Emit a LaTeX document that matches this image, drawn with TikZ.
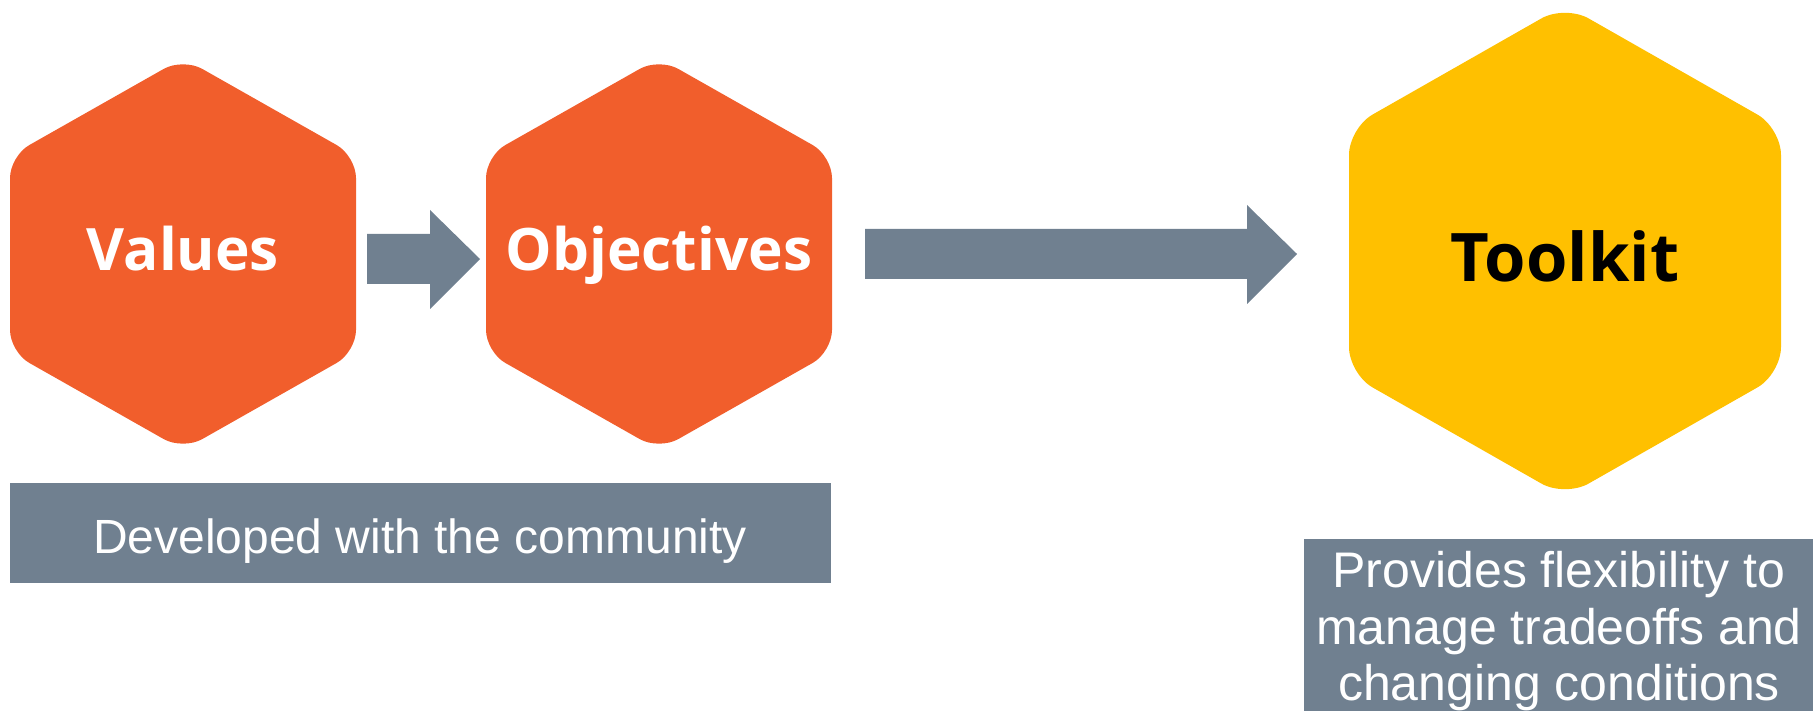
\documentclass[tikz,border=0pt]{standalone}
\usepackage{fontspec}
\setmainfont{Liberation Sans}
\newfontfamily\hexfont{Open Sans}
\usetikzlibrary{calc}
\definecolor{hexorange}{RGB}{241,94,44}
\definecolor{hexyellow}{RGB}{255,192,0}
\definecolor{slate}{RGB}{112,128,144}
\tikzset{
  pics/hexa/.style n args={4}{code={
    \fill[#4, rounded corners=#3]
      (0,-#2) -- (#1,-#2/2) -- (#1,#2/2) -- (0,#2) -- (-#1,#2/2) -- (-#1,-#2/2) -- cycle;
  }},
  hexlabel/.style={inner sep=0pt, anchor=base, font=\hexfont\bfseries\fontsize{58.5}{66}\selectfont, text=white},
  boxtext/.style={inner sep=0pt, anchor=base, text=white},
  slatebox/.style={fill=slate, inner sep=0pt, anchor=north west}
}
\begin{document}
\begin{tikzpicture}[x=1pt,y=-1pt]
\useasboundingbox (0,0) rectangle (1813,711);
% hexagons
\coordinate (hv) at (183,254);
\coordinate (ho) at (659,254);
\coordinate (ht) at (1565,251);
\pic at (hv) {hexa={173}{196}{22pt}{hexorange}};
\pic at (ho) {hexa={173}{196}{22pt}{hexorange}};
\pic at (ht) {hexa={216}{246}{27pt}{hexyellow}};
\node[hexlabel] (values) at (183,271) {Values};
\node[hexlabel] (objectives) at (659,271) {Objectives};
\node[hexlabel, text=black, font=\hexfont\bfseries\fontsize{67}{75}\selectfont] (toolkit) at (1565,282) {Toolkit};
% block arrows
\coordinate (a1) at (367,259);
\coordinate (a1h) at (430,259);
\coordinate (a1t) at (480,259);
\fill[slate] ($(a1)+(0,-25)$) -- ($(a1h)+(0,-25)$) -- ($(a1h)+(0,-49)$) -- (a1t)
  -- ($(a1h)+(0,50)$) -- ($(a1h)+(0,25)$) -- ($(a1)+(0,25)$) -- cycle;
\coordinate (a2) at (865,254);
\coordinate (a2h) at (1247,254);
\coordinate (a2t) at (1297,254);
\fill[slate] ($(a2)+(0,-25)$) -- ($(a2h)+(0,-25)$) -- ($(a2h)+(0,-49)$) -- (a2t)
  -- ($(a2h)+(0,50)$) -- ($(a2h)+(0,25)$) -- ($(a2)+(0,25)$) -- cycle;
% caption boxes
\node[slatebox, minimum width=821pt, minimum height=100pt] (devbox) at (10,483) {};
\node[boxtext, font=\fontsize{48}{56}\selectfont] (devtext) at (420,553) {Developed with the community};
\node[slatebox, minimum width=509pt, minimum height=172pt] (provbox) at (1304,539) {};
\node[boxtext, font=\fontsize{50}{58}\selectfont] (prov1) at (1559,587) {Provides flexibility to};
\node[boxtext, font=\fontsize{50}{58}\selectfont] (prov2) at (1559,644) {manage tradeoffs and};
\node[boxtext, font=\fontsize{50}{58}\selectfont] (prov3) at (1559,700) {changing conditions};
\end{tikzpicture}
\end{document}
